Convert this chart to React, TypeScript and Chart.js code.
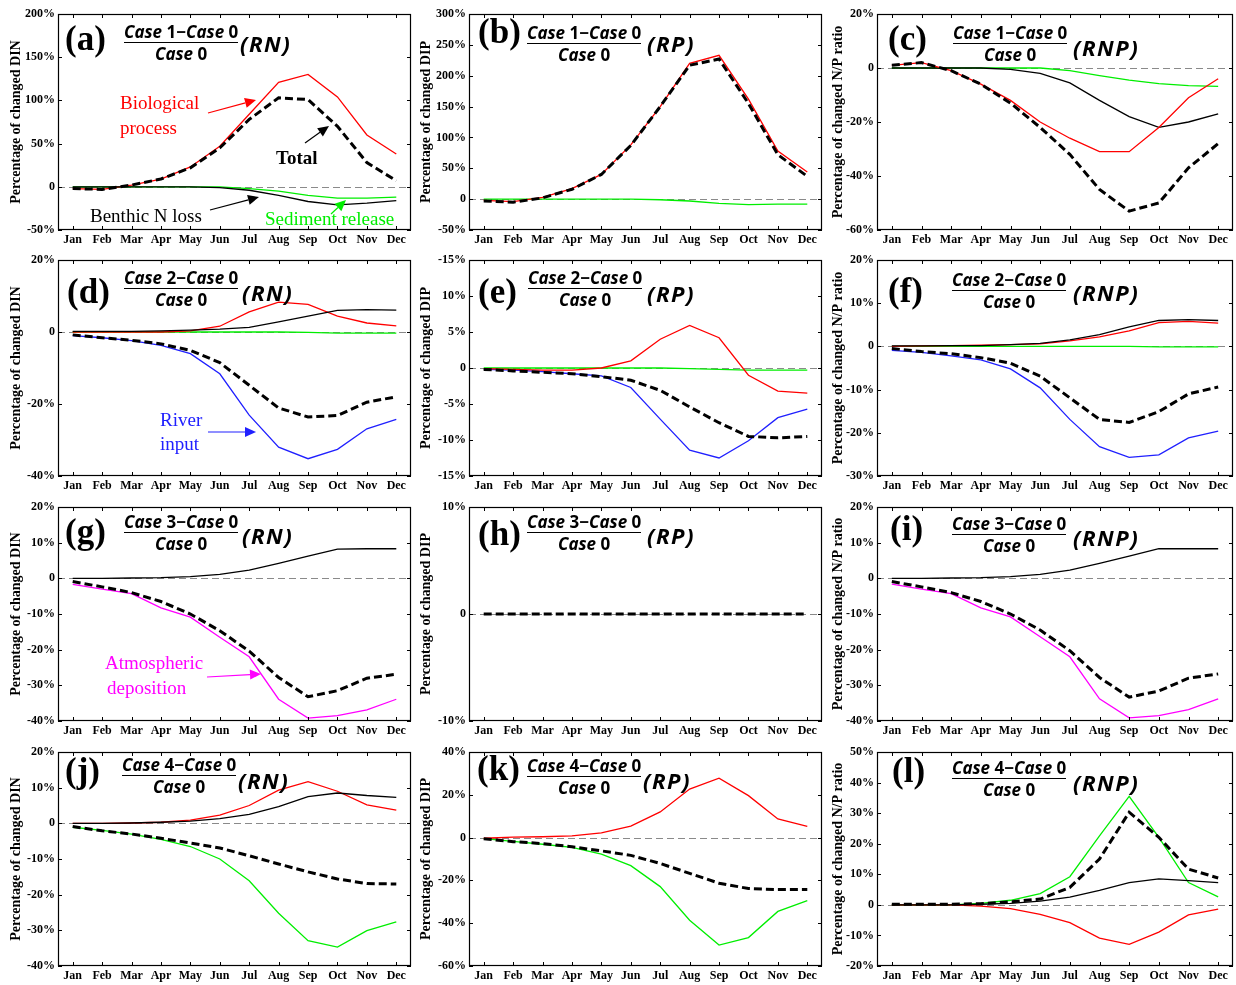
import React, { useEffect, useRef } from "react";
import { Chart, registerables } from "chart.js";
Chart.register(...registerables);

const MONTHS = ["Jan", "Feb", "Mar", "Apr", "May", "Jun", "Jul", "Aug", "Sep", "Oct", "Nov", "Dec"];

// (a) Case 1, DIN
const A_TOTAL = [-2, -3, 2, 9, 22, 45, 78, 103, 101, 70, 28, 7];
const A_BIO = [-2, -3, 2, 9, 23, 47, 84, 121, 130, 104, 60, 38];
const A_BENTHIC = [0, 0, 0, 0, 0, -1, -4, -10, -17, -21, -19, -16];
const A_SEDIMENT = [0, 0, 0, 0, 0, 0, -2, -5, -10, -13, -13, -12];
const A_TICKS = ["-50%", "0", "50%", "100%", "150%", "200%"];

// (b) Case 1, DIP
const B_TOTAL = [-3, -5, 2, 16, 40, 87, 150, 217, 227, 155, 72, 37];
const B_BIO = [-2, -4, 3, 17, 40, 88, 150, 220, 233, 162, 78, 44];
const B_SEDIMENT = [0, 0, 0, 0, 0, 0, -1, -3, -7, -9, -8, -8];
const B_TICKS = ["-50%", "0", "50%", "100%", "150%", "200%", "250%", "300%"];

// (c) Case 1, N/P
const C_TOTAL = [1, 2, -1, -6, -13, -22, -32, -45, -53, -50, -37, -28];
const C_BIO = [1, 2, -1, -6, -12, -20, -26, -31, -31, -22, -11, -4];
const C_BENTHIC = [0, 0, 0, 0, -0.5, -2, -5.5, -12, -18, -22, -20, -17];
const C_SEDIMENT = [0, 0, 0, 0, 0, 0, -1, -2.8, -4.5, -5.8, -6.5, -6.8];
const C_TICKS = ["-60%", "-40%", "-20%", "0", "20%"];

// (d) Case 2, DIN
const D_TOTAL = [-0.8, -1.6, -2.3, -3.3, -5.1, -8.5, -14.8, -21.1, -23.6, -23.2, -19.5, -18];
const D_BIO = [0, 0, 0, 0, 0.3, 1.6, 5.6, 8.3, 7.7, 4.4, 2.5, 1.7];
const D_BENTHIC = [0.2, 0.2, 0.2, 0.3, 0.5, 0.8, 1.3, 2.8, 4.4, 6, 6.2, 6.1];
const D_SEDIMENT = [0, 0, 0, 0, 0, 0, 0, 0, -0.1, -0.3, -0.3, -0.3];
const D_RIVER = [-1, -1.6, -2.4, -3.7, -6, -11.6, -23.1, -32, -35.2, -32.6, -26.9, -24.3];
const D_TICKS = ["-40%", "-20%", "0", "20%"];

// (e) Case 2, DIP
const E_TOTAL = [-0.2, -0.4, -0.6, -0.8, -1.2, -1.7, -3.1, -5.4, -7.6, -9.5, -9.7, -9.5];
const E_BIO = [-0.1, -0.2, -0.3, -0.3, 0, 1, 4, 5.9, 4.2, -1, -3.2, -3.5];
const E_SEDIMENT = [0, 0, 0, 0, 0, 0, 0, -0.1, -0.2, -0.3, -0.3, -0.3];
const E_RIVER = [-0.2, -0.3, -0.5, -0.8, -1.1, -2.7, -7.1, -11.4, -12.5, -10.1, -6.9, -5.7];
const E_TICKS = ["-15%", "-10%", "-5%", "0", "5%", "10%", "-15%"];

// (f) Case 2, N/P
const F_TOTAL = [-0.5, -1.2, -1.7, -2.6, -3.9, -6.9, -11.9, -16.9, -17.6, -15.1, -11, -9.4];
const F_BIO = [0, 0.1, 0.2, 0.3, 0.4, 0.6, 1.3, 2.2, 3.6, 5.5, 5.8, 5.4];
const F_BENTHIC = [0.1, 0.1, 0.2, 0.2, 0.4, 0.7, 1.5, 2.7, 4.5, 6, 6.2, 6];
const F_SEDIMENT = [0, 0, 0, 0, 0, 0, 0, 0, 0, -0.1, -0.1, -0.1];
const F_RIVER = [-0.9, -1.4, -2.2, -3.1, -5.2, -9.6, -16.9, -23.2, -25.7, -25.1, -21.2, -19.6];
const F_TICKS = ["-30%", "-20%", "-10%", "0", "10%", "20%"];

// (g) Case 3, DIN
const G_TOTAL = [-0.9, -2.4, -4, -6.5, -10, -14.7, -20.4, -27.8, -33.2, -31.5, -28, -26.9];
const G_BENTHIC = [0, 0, 0.1, 0.2, 0.5, 1.1, 2.3, 4.2, 6.2, 8.2, 8.3, 8.3];
const G_ATMOS = [-1.7, -3, -4.3, -8.3, -10.9, -16.5, -22, -33.9, -39.2, -38.5, -36.9, -33.9];
const G_TICKS = ["-40%", "-30%", "-20%", "-10%", "0", "10%", "20%"];

// (h) Case 3, DIP
const H_TOTAL = [0, 0, 0, 0, 0, 0, 0, 0, 0, 0, 0, 0];
const H_TICKS = ["-10%", "0", "10%"];

// (i) Case 3, N/P
const I_TOTAL = [-0.9, -2.4, -4, -6.5, -10, -14.5, -20.3, -27.8, -33.3, -31.6, -28, -26.8];
const I_BENTHIC = [0, 0, 0.1, 0.2, 0.5, 1.1, 2.3, 4.2, 6.2, 8.3, 8.3, 8.3];
const I_ATMOS = [-1.6, -3, -4.3, -8.3, -10.8, -16.4, -22, -33.8, -39.1, -38.5, -36.8, -33.8];
const I_TICKS = ["-40%", "-30%", "-20%", "-10%", "0", "10%", "20%"];

// (j) Case 4, DIN
const J_TOTAL = [-0.9, -2.1, -3, -4.2, -5.5, -6.9, -9.1, -11.4, -13.6, -15.6, -16.9, -17];
const J_BIO = [0, 0, 0.1, 0.3, 0.9, 2.3, 5, 9.3, 11.7, 9, 5.2, 3.7];
const J_BENTHIC = [0, 0, 0.1, 0.3, 0.6, 1.3, 2.5, 4.7, 7.5, 8.5, 7.8, 7.3];
const J_GREEN = [-1.1, -2, -3, -4.5, -6.5, -10, -16.1, -25.2, -32.9, -34.7, -30.1, -27.6];
const J_TICKS = ["-40%", "-30%", "-20%", "-10%", "0", "10%", "20%"];

// (k) Case 4, DIP
const K_TOTAL = [-0.5, -1.9, -2.8, -4.3, -6.2, -8.3, -12.1, -16.7, -21.3, -23.8, -24.3, -24.3];
const K_BIO = [-0.3, 0.2, 0.4, 0.8, 2.2, 5.4, 12, 22.7, 27.8, 19.6, 8.7, 5.3];
const K_GREEN = [-0.5, -1.8, -3.1, -4.6, -7.7, -13.1, -22.9, -38.6, -50.2, -46.7, -34.5, -29.4];
const K_TICKS = ["-60%", "-40%", "-20%", "0", "20%", "40%"];

// (l) Case 4, N/P
const L_TOTAL = [0.2, 0.2, 0.2, 0.4, 1, 1.9, 5.7, 15, 30.3, 22.1, 11.7, 8.8];
const L_BIO = [0, 0, 0, -0.4, -1.2, -3.1, -5.8, -10.9, -12.9, -8.9, -3.3, -1.4];
const L_BENTHIC = [0, 0, 0, 0.2, 0.5, 1.2, 2.5, 4.7, 7.3, 8.5, 7.9, 7.3];
const L_GREEN = [0, 0, 0, 0.5, 1.5, 3.7, 9.2, 22.6, 35.5, 22.1, 7.3, 2.6];
const L_TICKS = ["-20%", "-10%", "0", "10%", "20%", "30%", "40%", "50%"];

const RED = "#ff0000";
const GREEN = "#00ee00";
const BLUE = "#2020ff";
const MAGENTA = "#ff00ff";
const BLACK = "#000000";

const T_DIN = "Percentage of changed DIN";
const T_DIP = "Percentage of changed DIP";
const T_NP = "Percentage of changed N/P ratio";

type Series = { data: number[]; color: string; dashed?: boolean };
type Spec = {
  letter: string; caseNo: number; tag: string; col: number; row: number;
  title: string; min: number; max: number; step: number; ticks: string[];
  series: Series[];
  pos: { letter: [number, number]; frac: [number, number]; tag: [number, number] };
};

const tot = (d: number[]): Series => ({ data: d, color: BLACK, dashed: true });

const PANELS: Spec[] = [
  { letter: "a", caseNo: 1, tag: "RN", col: 0, row: 0, title: T_DIN, min: -50, max: 200, step: 50, ticks: A_TICKS,
    series: [tot(A_TOTAL), { data: A_BENTHIC, color: BLACK }, { data: A_BIO, color: RED }, { data: A_SEDIMENT, color: GREEN }],
    pos: { letter: [65, 40], frac: [124, 32], tag: [240, 43] } },
  { letter: "b", caseNo: 1, tag: "RP", col: 1, row: 0, title: T_DIP, min: -50, max: 300, step: 50, ticks: B_TICKS,
    series: [tot(B_TOTAL), { data: B_BIO, color: RED }, { data: B_SEDIMENT, color: GREEN }],
    pos: { letter: [478, 33], frac: [527, 33], tag: [647, 43] } },
  { letter: "c", caseNo: 1, tag: "RNP", col: 2, row: 0, title: T_NP, min: -60, max: 20, step: 20, ticks: C_TICKS,
    series: [tot(C_TOTAL), { data: C_BIO, color: RED }, { data: C_BENTHIC, color: BLACK }, { data: C_SEDIMENT, color: GREEN }],
    pos: { letter: [888, 40], frac: [953, 33], tag: [1073, 47] } },
  { letter: "d", caseNo: 2, tag: "RN", col: 0, row: 1, title: T_DIN, min: -40, max: 20, step: 20, ticks: D_TICKS,
    series: [tot(D_TOTAL), { data: D_BENTHIC, color: BLACK }, { data: D_BIO, color: RED }, { data: D_SEDIMENT, color: GREEN }, { data: D_RIVER, color: BLUE }],
    pos: { letter: [67, 293], frac: [124, 278], tag: [242, 292] } },
  { letter: "e", caseNo: 2, tag: "RP", col: 1, row: 1, title: T_DIP, min: -15, max: 15, step: 5, ticks: E_TICKS,
    series: [tot(E_TOTAL), { data: E_BIO, color: RED }, { data: E_SEDIMENT, color: GREEN }, { data: E_RIVER, color: BLUE }],
    pos: { letter: [478, 293], frac: [528, 278], tag: [647, 293] } },
  { letter: "f", caseNo: 2, tag: "RNP", col: 2, row: 1, title: T_NP, min: -30, max: 20, step: 10, ticks: F_TICKS,
    series: [tot(F_TOTAL), { data: F_BENTHIC, color: BLACK }, { data: F_BIO, color: RED }, { data: F_SEDIMENT, color: GREEN }, { data: F_RIVER, color: BLUE }],
    pos: { letter: [888, 292], frac: [952, 280], tag: [1073, 292] } },
  { letter: "g", caseNo: 3, tag: "RN", col: 0, row: 2, title: T_DIN, min: -40, max: 20, step: 10, ticks: G_TICKS,
    series: [tot(G_TOTAL), { data: G_BENTHIC, color: BLACK }, { data: G_ATMOS, color: MAGENTA }],
    pos: { letter: [65, 533], frac: [124, 522], tag: [242, 535] } },
  { letter: "h", caseNo: 3, tag: "RP", col: 1, row: 2, title: T_DIP, min: -10, max: 10, step: 10, ticks: H_TICKS,
    series: [tot(H_TOTAL)],
    pos: { letter: [478, 535], frac: [527, 522], tag: [647, 535] } },
  { letter: "i", caseNo: 3, tag: "RNP", col: 2, row: 2, title: T_NP, min: -40, max: 20, step: 10, ticks: I_TICKS,
    series: [tot(I_TOTAL), { data: I_BENTHIC, color: BLACK }, { data: I_ATMOS, color: MAGENTA }],
    pos: { letter: [890, 530], frac: [952, 524], tag: [1073, 537] } },
  { letter: "j", caseNo: 4, tag: "RN", col: 0, row: 3, title: T_DIN, min: -40, max: 20, step: 10, ticks: J_TICKS,
    series: [tot(J_TOTAL), { data: J_BENTHIC, color: BLACK }, { data: J_BIO, color: RED }, { data: J_GREEN, color: GREEN }],
    pos: { letter: [65, 772], frac: [122, 765], tag: [238, 780] } },
  { letter: "k", caseNo: 4, tag: "RP", col: 1, row: 3, title: T_DIP, min: -60, max: 40, step: 20, ticks: K_TICKS,
    series: [tot(K_TOTAL), { data: K_BIO, color: RED }, { data: K_GREEN, color: GREEN }],
    pos: { letter: [477, 770], frac: [527, 766], tag: [643, 780] } },
  { letter: "l", caseNo: 4, tag: "RNP", col: 2, row: 3, title: T_NP, min: -20, max: 50, step: 10, ticks: L_TICKS,
    series: [tot(L_TOTAL), { data: L_BENTHIC, color: BLACK }, { data: L_BIO, color: RED }, { data: L_GREEN, color: GREEN }],
    pos: { letter: [892, 772], frac: [952, 768], tag: [1073, 782] } },
];

const COLS = [
  { left: 0, width: 413, plotLeft: 58, plotRight: 411, titlePad: 8 },
  { left: 413, width: 412, plotLeft: 469, plotRight: 822, titlePad: 5 },
  { left: 825, width: 411, plotLeft: 877, plotRight: 1233, titlePad: 5 },
];
const ROWS = [
  { top: 0, height: 247, plotTop: 14, plotBottom: 230 },
  { top: 247, height: 245, plotTop: 260, plotBottom: 476 },
  { top: 492, height: 246, plotTop: 507, plotBottom: 721 },
  { top: 738, height: 247, plotTop: 752, plotBottom: 966 },
];

const SERIF = "'Liberation Serif', 'Times New Roman', serif";

const framePlugin = {
  id: "frame",
  beforeDatasetsDraw(chart: any) {
    const { ctx, chartArea, scales } = chart;
    const y0 = scales.y.getPixelForValue(0);
    ctx.save();
    ctx.strokeStyle = "#8a8a8a";
    ctx.lineWidth = 1;
    ctx.setLineDash([7, 4]);
    ctx.beginPath();
    ctx.moveTo(chartArea.left, Math.round(y0) + 0.5);
    ctx.lineTo(chartArea.right, Math.round(y0) + 0.5);
    ctx.stroke();
    ctx.restore();
  },
  afterDraw(chart: any) {
    const { ctx, chartArea, scales } = chart;
    const { left, right, top, bottom } = chartArea;
    ctx.save();
    ctx.strokeStyle = "#000";
    ctx.lineWidth = 1.2;
    ctx.setLineDash([]);
    ctx.strokeRect(left + 0.5, top + 0.5, right - left - 1, bottom - top - 1);
    ctx.lineWidth = 1;
    ctx.beginPath();
    scales.y.ticks.forEach((_t: any, i: number) => {
      const p = Math.round(scales.y.getPixelForTick(i)) + 0.5;
      ctx.moveTo(left, p); ctx.lineTo(left + 4, p);
      ctx.moveTo(right, p); ctx.lineTo(right - 4, p);
    });
    scales.x.ticks.forEach((_t: any, i: number) => {
      const p = Math.round(scales.x.getPixelForTick(i)) + 0.5;
      ctx.moveTo(p, bottom); ctx.lineTo(p, bottom - 4);
      ctx.moveTo(p, top); ctx.lineTo(p, top + 4);
    });
    ctx.stroke();
    ctx.restore();
  },
};

function Panel({ spec }: { spec: Spec }) {
  const ref = useRef<HTMLCanvasElement>(null);
  const col = COLS[spec.col];
  const row = ROWS[spec.row];
  useEffect(() => {
    const yW = col.plotLeft - col.left;
    const xH = row.top + row.height - row.plotBottom;
    const tickFont = { family: SERIF, weight: "bold" as const, size: 12 };
    const chart = new Chart(ref.current!, {
      type: "line",
      data: {
        labels: MONTHS,
        datasets: spec.series.map((s) => ({
          data: s.data,
          borderColor: s.color,
          borderWidth: s.dashed ? 3 : 1.3,
          borderDash: s.dashed ? [8, 4] : [],
          pointRadius: 0,
          tension: 0,
          fill: false,
        })),
      },
      options: {
        animation: false,
        responsive: false,
        devicePixelRatio: 1,
        layout: { padding: { top: row.plotTop - row.top, right: col.left + col.width - col.plotRight, left: 0, bottom: 0 } },
        plugins: { legend: { display: false }, tooltip: { enabled: false } },
        scales: {
          x: {
            type: "category",
            offset: true,
            grid: { display: false, drawTicks: false },
            border: { display: false },
            ticks: { autoSkip: false, maxRotation: 0, padding: 3, color: "#000", font: tickFont },
            afterFit: (s: any) => { s.height = xH; },
          },
          y: {
            type: "linear",
            min: spec.min,
            max: spec.max,
            grid: { display: false, drawTicks: false },
            border: { display: false },
            ticks: {
              stepSize: spec.step,
              padding: 3,
              color: "#000",
              font: tickFont,
              callback: (_v: any, i: number) => spec.ticks[i],
            },
            title: {
              display: true,
              text: spec.title,
              color: "#000",
              font: { family: SERIF, weight: "bold", size: 14 },
              padding: { top: col.titlePad, bottom: 0 },
            },
            afterFit: (s: any) => { s.width = yW; },
          },
        },
      } as any,
      plugins: [framePlugin],
    });
    return () => chart.destroy();
  }, []);
  return (
    <canvas
      ref={ref}
      width={col.width}
      height={row.height}
      style={{ position: "absolute", left: col.left, top: row.top, width: col.width, height: row.height }}
    />
  );
}

const FRAC_FONT = "'Noto Sans', 'DejaVu Sans', sans-serif";

function Label({ spec }: { spec: Spec }) {
  const { letter, frac, tag } = spec.pos;
  return (
    <>
      <div style={{ position: "absolute", left: letter[0], top: letter[1] - 21, fontFamily: SERIF, fontWeight: "bold", fontSize: 35, lineHeight: "40px", color: "#000", whiteSpace: "nowrap" }}>
        ({spec.letter})
      </div>
      <div style={{ position: "absolute", left: frac[0], top: frac[1] - 10, fontFamily: FRAC_FONT, fontWeight: "bold", fontSize: 17, color: "#000", textAlign: "center", whiteSpace: "nowrap" }}>
        <div style={{ lineHeight: "19px" }}>
          <i>Case</i> {spec.caseNo}−<i>Case</i> 0
        </div>
        <div style={{ height: 1.5, background: "#000", margin: "0.5px 0 1px" }} />
        <div style={{ lineHeight: "19px" }}>
          <i>Case</i> 0
        </div>
      </div>
      <div style={{ position: "absolute", left: tag[0], top: tag[1] - 13, fontFamily: FRAC_FONT, fontWeight: "bold", fontStyle: "italic", fontSize: 22, lineHeight: "26px", letterSpacing: 1.5, color: "#000", whiteSpace: "nowrap" }}>
        ({spec.tag})
      </div>
    </>
  );
}

// Text annotations (page coordinates: left, vertical centre)
const NOTES: { text: string; x: number; y: number; color: string; bold?: boolean }[] = [
  { text: "Biological", x: 120, y: 103, color: RED },
  { text: "process", x: 120, y: 128, color: RED },
  { text: "Total", x: 276, y: 158, color: BLACK, bold: true },
  { text: "Benthic N loss", x: 90, y: 216, color: BLACK },
  { text: "Sediment release", x: 265, y: 219, color: GREEN },
  { text: "River", x: 160, y: 420, color: BLUE },
  { text: "input", x: 160, y: 444, color: BLUE },
  { text: "Atmospheric", x: 105, y: 663, color: MAGENTA },
  { text: "deposition", x: 107, y: 688, color: MAGENTA },
];

const ARROWS: { x1: number; y1: number; x2: number; y2: number; color: string }[] = [
  { x1: 208, y1: 113, x2: 256, y2: 100, color: RED },
  { x1: 305, y1: 143, x2: 329, y2: 126, color: BLACK },
  { x1: 210, y1: 210, x2: 259, y2: 197, color: BLACK },
  { x1: 331, y1: 214, x2: 346, y2: 200, color: GREEN },
  { x1: 208, y1: 432, x2: 256, y2: 432, color: BLUE },
  { x1: 207, y1: 677, x2: 261, y2: 674, color: MAGENTA },
];

function Arrow({ a }: { a: (typeof ARROWS)[number] }) {
  const dx = a.x2 - a.x1, dy = a.y2 - a.y1;
  const len = Math.hypot(dx, dy);
  const ux = dx / len, uy = dy / len;
  const hl = 11, hw = 5;
  const bx = a.x2 - ux * hl, by = a.y2 - uy * hl;
  const pts = `${a.x2},${a.y2} ${bx - uy * hw},${by + ux * hw} ${bx + uy * hw},${by - ux * hw}`;
  return (
    <g>
      <line x1={a.x1} y1={a.y1} x2={bx} y2={by} stroke={a.color} strokeWidth={1.2} />
      <polygon points={pts} fill={a.color} />
    </g>
  );
}

export default function App() {
  return (
    <div style={{ position: "absolute", left: 0, top: 0, width: 1236, height: 985, background: "#fff", overflow: "hidden" }}>
      {PANELS.map((p) => (
        <Panel key={p.letter} spec={p} />
      ))}
      {PANELS.map((p) => (
        <Label key={"l" + p.letter} spec={p} />
      ))}
      {NOTES.map((n, i) => (
        <div key={"n" + i} style={{ position: "absolute", left: n.x, top: n.y - 12, fontFamily: SERIF, fontSize: 19, lineHeight: "24px", fontWeight: n.bold ? "bold" : "normal", color: n.color, whiteSpace: "nowrap" }}>
          {n.text}
        </div>
      ))}
      <svg width={1236} height={985} style={{ position: "absolute", left: 0, top: 0, pointerEvents: "none" }}>
        {ARROWS.map((a, i) => (
          <Arrow key={i} a={a} />
        ))}
      </svg>
    </div>
  );
}
